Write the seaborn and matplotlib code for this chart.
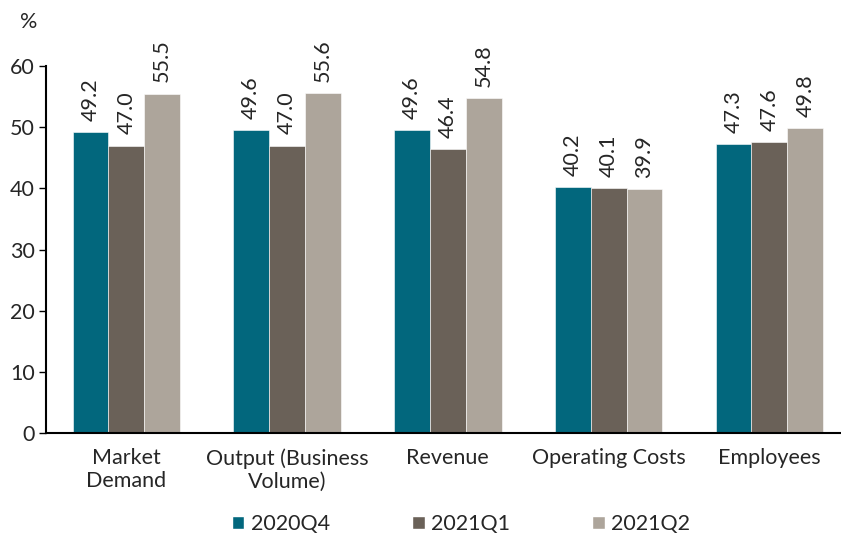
import pandas as pd
import seaborn as sns
import matplotlib.pyplot as plt
from matplotlib.patches import Patch

# Données
categories = ["Market\nDemand", "Output (Business\nVolume)", "Revenue", "Operating Costs", "Employees"]
series = ["2020Q4", "2021Q1", "2021Q2"]
q4_2020 = [49.2, 49.6, 49.6, 40.2, 47.3]
q1_2021 = [47.0, 47.0, 46.4, 40.1, 47.6]
q2_2021 = [55.5, 55.6, 54.8, 39.9, 49.8]
colors = ["#02677d", "#6a6158", "#ada59b"]

df = pd.DataFrame({
    "categorie": categories * 3,
    "serie": [s for s in series for _ in categories],
    "valeur": q4_2020 + q1_2021 + q2_2021,
})

sns.set_style("white")
plt.rcParams["font.family"] = ["Lato", "DejaVu Sans"]
fs = 15.5

fig = plt.figure(figsize=(8.41, 5.38), dpi=100)
ax = fig.add_axes([46 / 841, 105 / 538, 795 / 841, 367 / 538])

sns.barplot(
    data=df, x="categorie", y="valeur", hue="serie",
    palette=colors, width=0.67, ax=ax, legend=False,
    edgecolor="white", linewidth=0.4, saturation=1,
)

for cont in ax.containers:
    ax.bar_label(cont, fmt="%.1f", rotation=90, padding=8, fontsize=fs)

ax.set_xlim(-0.5, -0.5 + 795 / 160.75)
ax.set_ylim(0, 60)
ax.set_yticks(range(0, 61, 10))
ax.set_xlabel("")
ax.set_ylabel("")
ax.tick_params(axis="y", labelsize=fs, length=5, width=1, left=True, color="black", pad=3)
ax.tick_params(axis="x", labelsize=fs, length=0, pad=11)
for s in ["top", "right"]:
    ax.spines[s].set_visible(False)
for s in ["left", "bottom"]:
    ax.spines[s].set_color("black")
    ax.spines[s].set_linewidth(1.5)
ax.grid(False)

fig.text(20 / 841, 1 - 22 / 538, "%", fontsize=fs, va="center")

handles = [Patch(facecolor=c) for c in colors]
fig.legend(handles, series, loc="center", bbox_to_anchor=(461 / 841, 1 - 524 / 538),
           ncol=3, frameon=False, fontsize=fs, handlelength=0.6, handleheight=0.6,
           handletextpad=0.3, columnspacing=3.8)

plt.savefig("out.png", dpi=100)
